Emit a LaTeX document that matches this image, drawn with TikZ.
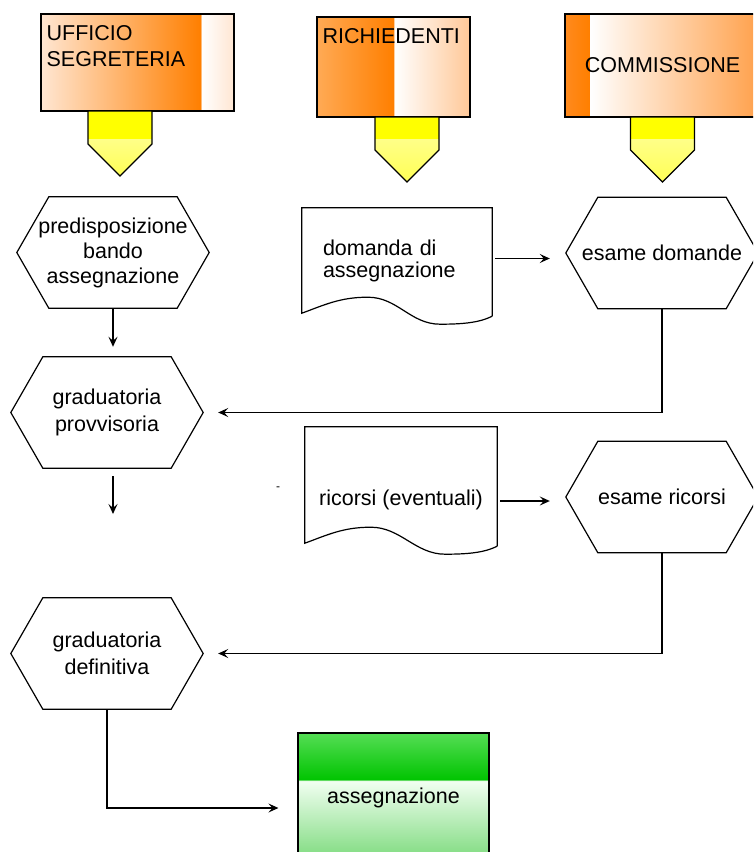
\documentclass[tikz,border=0pt]{standalone}
\usepackage{fontspec}
\setmainfont{Liberation Sans}
\usetikzlibrary{arrows.meta}

\definecolor{peachlt}{HTML}{FFE6D2}
\definecolor{peachmd}{HTML}{FFC898}
\definecolor{orangedk}{HTML}{FF7F00}
\definecolor{orangemd}{HTML}{FFAA55}
\definecolor{orangeband}{HTML}{FF8A1E}
\definecolor{orangert}{HTML}{FFA04A}
\definecolor{yelltop}{HTML}{FFFF00}
\definecolor{yellmid}{HTML}{FFFF88}
\definecolor{yelltip}{HTML}{FFFF55}
\definecolor{greentop}{HTML}{55DD55}
\definecolor{greendk}{HTML}{00C400}
\definecolor{greenwh}{HTML}{F2FFF2}
\definecolor{greenlo}{HTML}{5CD05C}

\pgfdeclarehorizontalshading{segreteria}{100bp}{color(0bp)=(peachlt); color(25bp)=(peachlt); color(66.4bp)=(orangedk); color(66.5bp)=(white); color(75bp)=(peachlt); color(100bp)=(peachlt)}
\pgfdeclarehorizontalshading{richiedenti}{100bp}{color(0bp)=(orangemd); color(25bp)=(orangemd); color(50.1bp)=(orangedk); color(50.2bp)=(white); color(75bp)=(peachmd); color(100bp)=(peachmd)}
\pgfdeclarehorizontalshading{commissione}{100bp}{color(0bp)=(orangeband); color(25bp)=(orangeband); color(31.3bp)=(orangedk); color(31.4bp)=(white); color(75bp)=(orangert); color(100bp)=(orangert)}
\pgfdeclareverticalshading{assegnbox}{100bp}{color(0bp)=(greenlo); color(25bp)=(greenlo); color(59.2bp)=(greenwh); color(59.3bp)=(greendk); color(75bp)=(greentop); color(100bp)=(greentop)}

\tikzset{
  hdrbox/.style={draw, shade, line width=1.2pt, inner sep=0pt},
  hdrtext/.style={anchor=north west, inner xsep=6pt, inner ysep=12pt, align=left},
  hexbox/.style={align=center, minimum width=192pt, minimum height=111pt, inner sep=0pt,
    append after command={\pgfextra{\let\hexnode=\tikzlastnode
      \draw[line width=1.2pt] (\hexnode.west) -- ([xshift=32pt]\hexnode.north west)
        -- ([xshift=-32pt]\hexnode.north east) -- (\hexnode.east)
        -- ([xshift=-32pt]\hexnode.south east) -- ([xshift=32pt]\hexnode.south west) -- cycle;}}},
  docbox/.style={inner sep=0pt,
    append after command={\pgfextra{\let\docnode=\tikzlastnode
      \draw[line width=1.2pt] ([yshift=-3pt]\docnode.south east) -- (\docnode.north east)
        -- (\docnode.north west) -- (\docnode.south west)
        .. controls +(22pt,8pt) and +(-28pt,0pt) .. ([xshift=66pt,yshift=16pt]\docnode.south west)
        .. controls +(30pt,0pt) and +(-30pt,0pt) .. ([xshift=-52pt,yshift=-11pt]\docnode.south east)
        .. controls +(25pt,0pt) and +(-12pt,-6pt) .. ([yshift=-3pt]\docnode.south east);}}},
  arr/.style={-{Stealth[length=10pt,width=9pt,inset=4pt]}, line width=1.3pt},
  link/.style={line width=1.2pt}
}

\begin{document}
\begin{tikzpicture}[x=1pt, y=-1pt, font=\fontsize{21.5}{25}\selectfont]
    \useasboundingbox (0,0) rectangle (753,852);
    \clip (0,0) rectangle (753,852);

    % header boxes
    \node[hdrbox, shading=segreteria, minimum width=193pt, minimum height=97pt,
      label={[hdrtext]north west:UFFICIO\\[1pt]SEGRETERIA}] (seg) at (137.5,62.5) {};
    \node[hdrbox, shading=richiedenti, minimum width=153pt, minimum height=100pt,
      label={[hdrtext]north west:RICHIEDENTI}] (rich) at (393.5,67) {};
    \node[hdrbox, shading=commissione, minimum width=195pt, minimum height=103pt] (comm) at (662.5,65.5) {COMMISSIONE};

    \foreach \cx/\ty in {120/111, 407/117, 662.5/117} {
        \fill[yelltop] (\cx-32,\ty) rectangle (\cx+32,139);
        \shade[top color=yellmid, bottom color=yelltip] (\cx-32,139) -- (\cx+32,139)
            -- (\cx+32,\ty+33) -- (\cx,\ty+65) -- (\cx-32,\ty+33) -- cycle;
        \draw[line width=1.2pt] (\cx-32,\ty) -- (\cx+32,\ty) -- (\cx+32,\ty+33)
            -- (\cx,\ty+65) -- (\cx-32,\ty+33) -- cycle;
    }

    % activities
    \node[hexbox] (pred) at (113,252.5) {predisposizione\\bando\\assegnazione};
    \node[docbox, minimum width=190pt, minimum height=105pt, text width=148pt,
      inner xsep=21pt, align=left] (domanda) at (397,260.5) {domanda di\\[-3pt]assegnazione};
    \node[hexbox] (esdom) at (662,253) {esame domande};
    \node[hexbox] (gradprov) at (107,412.5) {graduatoria\\[2pt]provvisoria};
    \node[docbox, minimum width=192pt, minimum height=116pt,
      text height=45pt, text depth=5pt] (ricorsi) at (401,485) {ricorsi (eventuali)};
    \node[hexbox] (esric) at (662,497) {esame ricorsi};
    \node[hexbox] (gradef) at (107,653.5) {graduatoria\\[2pt]definitiva};
    \node[draw, shade, shading=assegnbox, line width=1.2pt, minimum width=191pt,
      minimum height=150pt, text height=15pt, text depth=25pt] (assegn) at (393.5,808) {assegnazione};
    \node[inner sep=0pt, font=\fontsize{12}{12}\selectfont] (dash) at (278,489) {-};
    \coordinate (gap) at (113,514);

    % connectors
    \draw[arr, shorten >=10pt] (pred.south) -- (pred.south |- gradprov.north);
    \draw[arr, shorten <=8pt] (gradprov.south -| gap) -- (gap);
    \draw[arr, shorten <=3pt, shorten >=16pt] ([yshift=2pt]domanda.east) -- ([yshift=2pt]domanda.east -| esdom.west);
    \draw[arr, shorten >=15pt] (esdom.south) |- (gradprov.east);
    \draw[arr, shorten <=3pt, shorten >=16pt] ([yshift=-16pt]ricorsi.east) -- ([yshift=-16pt]ricorsi.east -| esric.west);
    \draw[arr, shorten >=15pt] (esric.south) |- (gradef.east);
    \draw[arr, shorten >=19pt] (gradef.south) |- (assegn.west);

\end{tikzpicture}
\end{document}
